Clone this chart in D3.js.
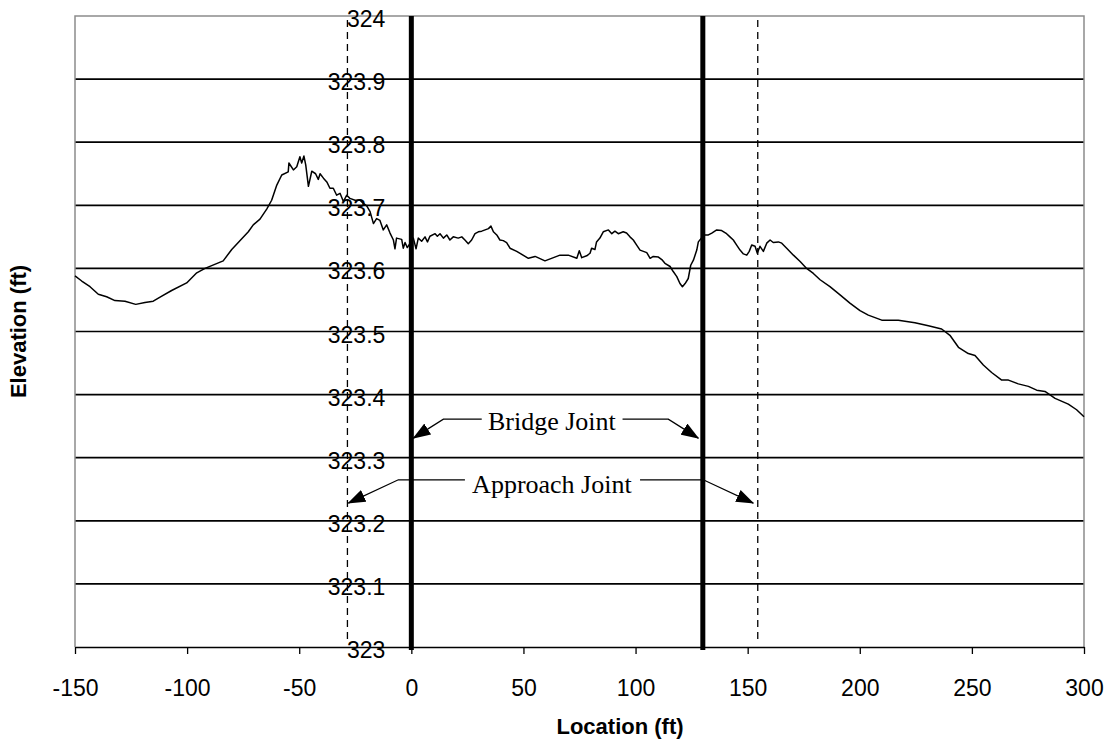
<!DOCTYPE html>
<html>
<head>
<meta charset="utf-8">
<script src="https://cdn.jsdelivr.net/npm/d3@7"></script>
<style>
  body { margin: 0; background: #fff; }
  svg { display: block; }
</style>
</head>
<body>
<svg width="1107" height="741"></svg>
<script>
// profile: location (ft) and elevation (ft)
var locations = [
  -150, -147.0, -143.3, -139.6, -135.9, -132.2, -127.7, -122.9, -118.8, -115.1,
  -111.3, -106.9, -100.2, -95.7, -92.0, -83.9, -80.1, -72.7, -70.5, -67.5,
  -64.5, -62.3, -60.0, -57.8, -54.9, -54.6, -52.6, -51.1, -49.7, -48.9,
  -47.9, -47.1, -45.9, -44.4, -42.7, -41.5, -40.7, -39.2, -37.7, -36.3,
  -34.8, -33.3, -31.8, -30.3, -28.8, -27.4, -25.1, -22.9, -21.4, -19.9,
  -18.4, -16.9, -15.5, -14.0, -12.5, -11.0, -9.5, -8.0, -7.3, -6.6,
  -4.3, -3.6, -2.8, -1.8, 0.9, 2.1, 3.1, 4.6, 6.1, 7.2,
  8.3, 10.6, 11.6, 12.8, 14.3, 15.8, 17.2, 18.7, 20.9, 22.5,
  23.9, 25.4, 26.9, 28.4, 29.9, 31.4, 32.9, 34.4, 35.5, 36.6,
  38.1, 39.5, 41.0, 42.5, 44.0, 47.0, 52.2, 55.2, 59.6, 66.3,
  70.0, 73.8, 74.9, 76.0, 78.2, 79.7, 80.4, 81.9, 82.6, 84.1,
  85.6, 87.9, 89.4, 90.8, 92.3, 94.5, 96.0, 97.5, 99.0, 100.5,
  102.0, 103.5, 105.0, 106.5, 107.9, 110.2, 111.7, 113.1, 115.4, 116.8,
  118.4, 119.8, 120.9, 122.1, 123.5, 124.6, 125.8, 127.3, 128.0, 130.5,
  132.5, 134.0, 136.2, 138.4, 140.6, 142.1, 143.6, 145.1, 146.6, 148.1,
  149.6, 150.7, 151.8, 153.3, 154.3, 155.5, 157.0, 158.5, 160.0, 161.4,
  163.7, 165.2, 167.4, 170.4, 173.4, 176.3, 179.3, 182.3, 186.7, 191.2,
  195.6, 200.1, 203.8, 209.8, 217.2, 224.6, 230.6, 236.5, 240.2, 244.0,
  248.4, 251.4, 255.1, 258.8, 263.3, 266.3, 270.7, 275.2, 278.9, 282.6,
  287.1, 293.0, 296.7, 300
];
var elevations = [
  323.588, 323.580, 323.571, 323.559, 323.555, 323.549, 323.548, 323.543, 323.546, 323.548,
  323.556, 323.565, 323.577, 323.593, 323.600, 323.612, 323.630, 323.658, 323.669, 323.678,
  323.694, 323.708, 323.732, 323.748, 323.753, 323.767, 323.756, 323.761, 323.777, 323.767,
  323.778, 323.764, 323.730, 323.754, 323.750, 323.741, 323.750, 323.743, 323.737, 323.727,
  323.727, 323.716, 323.719, 323.706, 323.716, 323.711, 323.708, 323.708, 323.703, 323.699,
  323.690, 323.671, 323.679, 323.676, 323.661, 323.669, 323.656, 323.645, 323.631, 323.648,
  323.646, 323.632, 323.641, 323.633, 323.648, 323.631, 323.648, 323.643, 323.650, 323.642,
  323.651, 323.655, 323.651, 323.655, 323.648, 323.653, 323.645, 323.650, 323.648, 323.650,
  323.645, 323.639, 323.645, 323.655, 323.658, 323.659, 323.661, 323.663, 323.667, 323.658,
  323.653, 323.645, 323.644, 323.641, 323.632, 323.627, 323.616, 323.619, 323.612, 323.621,
  323.621, 323.616, 323.628, 323.617, 323.620, 323.624, 323.632, 323.630, 323.642, 323.648,
  323.658, 323.661, 323.655, 323.659, 323.655, 323.658, 323.656, 323.650, 323.645, 323.637,
  323.629, 323.627, 323.625, 323.616, 323.619, 323.618, 323.614, 323.608, 323.603, 323.595,
  323.587, 323.576, 323.571, 323.576, 323.584, 323.605, 323.613, 323.629, 323.642, 323.653,
  323.653, 323.656, 323.661, 323.660, 323.655, 323.650, 323.645, 323.637, 323.629, 323.623,
  323.621, 323.627, 323.637, 323.635, 323.624, 323.635, 323.627, 323.640, 323.645, 323.641,
  323.642, 323.640, 323.632, 323.621, 323.611, 323.600, 323.592, 323.582, 323.571, 323.558,
  323.545, 323.533, 323.526, 323.518, 323.518, 323.514, 323.509, 323.504, 323.494, 323.475,
  323.465, 323.462, 323.447, 323.435, 323.423, 323.423, 323.417, 323.413, 323.407, 323.405,
  323.394, 323.385, 323.376, 323.365
];

var xTicks = [-150, -100, -50, 0, 50, 100, 150, 200, 250, 300];
var yTicks = [323, 323.1, 323.2, 323.3, 323.4, 323.5, 323.6, 323.7, 323.8, 323.9, 324];
var bridgeJoints = [0, 130];
var approachJoints = [-28.5, 154.5];

// callouts in data units: text spot, leader level, and for each leg [from, bend, tipX, tipY]
var callouts = [
  { label: "Bridge Joint", x: 62.7, y: 323.344, lineY: 323.361,
    legs: [[31.4, 14.3, 0.9, 323.331], [94.2, 114.6, 128.0, 323.331]] },
  { label: "Approach Joint", x: 62.7, y: 323.244, lineY: 323.265,
    legs: [[23.9, -5.8, -28.1, 323.228], [102.0, 130.2, 152.5, 323.228]] }
];

var svg = d3.select("svg"),
  plotLeft = 75, plotRight = 1084, plotTop = 16, plotBottom = 647;

var x = d3.scaleLinear().domain([-150, 300]).range([plotLeft, plotRight]);
var y = d3.scaleLinear().domain([323, 324]).range([plotBottom, plotTop]);

var profile = locations.map(function(d, i) {
  return [d, elevations[i]];
});

// gridlines
svg.append("g")
  .selectAll("line")
  .data(yTicks.slice(1, -1))
  .enter().append("line")
  .attr("x1", plotLeft)
  .attr("x2", plotRight)
  .attr("y1", function(d) { return y(d); })
  .attr("y2", function(d) { return y(d); })
  .attr("stroke", "#000")
  .attr("stroke-width", 1.7);

// plot frame (grey top/left/right)
svg.append("path")
  .attr("d", "M" + plotLeft + "," + plotBottom + "V" + plotTop + "H" + plotRight + "V" + plotBottom)
  .attr("fill", "none")
  .attr("stroke", "#8c8c8c")
  .attr("stroke-width", 1.5);

// approach joints, dashed
svg.append("g")
  .selectAll("line")
  .data(approachJoints)
  .enter().append("line")
  .attr("x1", function(d) { return x(d); })
  .attr("x2", function(d) { return x(d); })
  .attr("y1", plotTop + 4)
  .attr("y2", plotBottom - 4)
  .attr("stroke", "#000")
  .attr("stroke-width", 1.3)
  .attr("stroke-dasharray", "7,5");

// y tick labels sit beside the axis at x = 0
svg.append("g")
  .selectAll("text")
  .data(yTicks)
  .enter().append("text")
  .attr("x", x(0) - 26)
  .attr("y", function(d) { return y(d) + 11; })
  .attr("text-anchor", "end")
  .style("font-family", "'Liberation Sans', Arial, sans-serif")
  .style("font-size", "23px")
  .text(function(d) { return String(+d.toFixed(1)); });

// profile line
svg.append("path")
  .datum(profile)
  .attr("fill", "none")
  .attr("stroke", "#000")
  .attr("stroke-width", 1.5)
  .attr("stroke-linejoin", "round")
  .attr("d", d3.line()
    .x(function(d) { return x(d[0]); })
    .y(function(d) { return y(d[1]); }));

// bridge joints, heavy
svg.append("g")
  .selectAll("line")
  .data(bridgeJoints)
  .enter().append("line")
  .attr("x1", function(d) { return x(d); })
  .attr("x2", function(d) { return x(d); })
  .attr("y1", plotTop)
  .attr("y2", plotBottom + 3)
  .attr("stroke", "#000")
  .attr("stroke-width", 5);

// x axis
var xAxis = svg.append("g")
  .attr("transform", "translate(0," + plotBottom + ")")
  .call(d3.axisBottom(x)
    .tickValues(xTicks)
    .tickFormat(function(d) { return String(d); })
    .tickSize(7)
    .tickPadding(26)
    .tickSizeOuter(0));
xAxis.select(".domain").attr("stroke", "#000").attr("stroke-width", 1.7);
xAxis.selectAll(".tick line").attr("stroke", "#000").attr("stroke-width", 1.3);
xAxis.selectAll("text")
  .style("font-family", "'Liberation Sans', Arial, sans-serif")
  .style("font-size", "23px")
  .attr("fill", "#000");

// axis titles
svg.append("text")
  .attr("x", 620)
  .attr("y", 734)
  .attr("text-anchor", "middle")
  .style("font-family", "'Liberation Sans', Arial, sans-serif")
  .style("font-weight", "bold")
  .style("font-size", "22px")
  .text("Location (ft)");

svg.append("text")
  .attr("transform", "translate(26," + (plotTop + plotBottom) / 2 + ") rotate(-90)")
  .attr("text-anchor", "middle")
  .style("font-family", "'Liberation Sans', Arial, sans-serif")
  .style("font-weight", "bold")
  .style("font-size", "22px")
  .text("Elevation (ft)");

// arrowhead
svg.append("defs").append("marker")
  .attr("id", "arrow")
  .attr("viewBox", "0 0 18 13")
  .attr("refX", 17)
  .attr("refY", 6.5)
  .attr("markerUnits", "userSpaceOnUse")
  .attr("markerWidth", 18)
  .attr("markerHeight", 13)
  .attr("orient", "auto")
  .append("path")
  .attr("d", "M0,0L18,6.5L0,13Z")
  .attr("fill", "#000");

var callout = svg.append("g")
  .selectAll("g")
  .data(callouts)
  .enter().append("g");

callout.selectAll("polyline")
  .data(function(d) {
    return d.legs.map(function(l) { return { leg: l, lineY: d.lineY }; });
  })
  .enter().append("polyline")
  .attr("points", function(d) {
    return [
      [x(d.leg[0]), y(d.lineY)],
      [x(d.leg[1]), y(d.lineY)],
      [x(d.leg[2]), y(d.leg[3])]
    ].join(" ");
  })
  .attr("fill", "none")
  .attr("stroke", "#000")
  .attr("stroke-width", 1.3)
  .attr("marker-end", "url(#arrow)");

callout.append("text")
  .attr("x", function(d) { return x(d.x); })
  .attr("y", function(d) { return y(d.y); })
  .attr("text-anchor", "middle")
  .style("font-family", "'Liberation Serif', 'Times New Roman', serif")
  .style("font-size", "26px")
  .text(function(d) { return d.label; });
</script>
</body>
</html>
